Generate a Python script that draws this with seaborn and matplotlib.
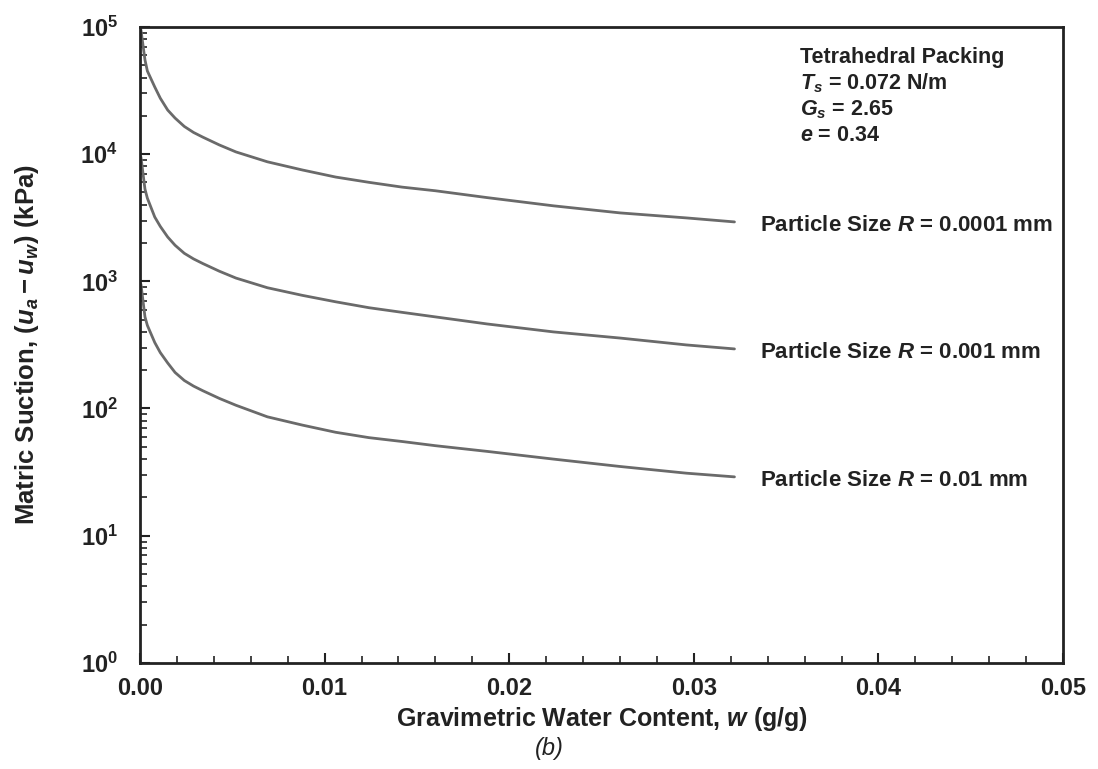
import matplotlib
matplotlib.use("Agg")
import matplotlib.pyplot as plt
import seaborn as sns
import numpy as np
import pandas as pd
from matplotlib.ticker import LogLocator, MultipleLocator, FixedLocator

# Values
water_content = [0.00005, 0.00027, 0.0004, 0.0008, 0.0011, 0.0015, 0.0019, 0.0024, 0.0029,
                 0.0034, 0.0043, 0.0052, 0.0069, 0.0088, 0.0106, 0.0124, 0.0142, 0.016,
                 0.0188, 0.0224, 0.026, 0.0296, 0.0322]
suction_r0001 = [95000, 55000, 45000, 33700, 27500, 22200, 19200, 16500, 14800,
                 13600, 11800, 10400, 8700, 7500, 6600, 6000, 5500, 5150,
                 4550, 3920, 3450, 3150, 2930]
suction_r001 = [9500, 5300, 4500, 3200, 2700, 2230, 1920, 1660, 1500,
                1380, 1200, 1060, 890, 775, 690, 620, 570, 525,
                462, 400, 358, 316, 294]
suction_r01 = [950, 525, 450, 330, 275, 228, 192, 166, 150,
               138, 120, 106, 86, 74, 65, 59, 55, 51,
               46, 40, 35, 31, 29]
curve_labels = ["Particle Size $R$ = 0.0001 mm",
                "Particle Size $R$ = 0.001 mm",
                "Particle Size $R$ = 0.01 mm"]

df = pd.concat([
    pd.DataFrame({"w": water_content, "suction": s, "curve": lab})
    for s, lab in zip([suction_r0001, suction_r001, suction_r01], curve_labels)
])

sns.set_style("ticks")
plt.rcParams["font.family"] = ["Liberation Sans", "DejaVu Sans"]
plt.rcParams["font.weight"] = "bold"
plt.rcParams["mathtext.fontset"] = "custom"
plt.rcParams["mathtext.rm"] = "Liberation Sans:bold"
plt.rcParams["mathtext.bf"] = "Liberation Sans:bold"
plt.rcParams["mathtext.it"] = "Liberation Sans:italic:bold"
plt.rcParams["axes.labelweight"] = "bold"

fig = plt.figure(figsize=(10.98, 7.69), dpi=100)
ax = fig.add_axes([0.1275, 0.138, 0.8407, 0.827])

sns.lineplot(data=df, x="w", y="suction", hue="curve", ax=ax, legend=False,
             palette=["#6a6a6a"] * 3, linewidth=2.0, sort=False, estimator=None)

ax.set_yscale("log")
ax.set_xlim(0, 0.05)
ax.set_ylim(1, 1e5)

ax.xaxis.set_major_locator(MultipleLocator(0.01))
ax.xaxis.set_minor_locator(MultipleLocator(0.002))
ax.set_xticklabels([f"{v:.2f}" for v in ax.get_xticks()])
ax.yaxis.set_major_locator(FixedLocator([1, 10, 100, 1e3, 1e4, 1e5]))
ax.set_yticklabels([r"$10^{%d}$" % k for k in range(6)])
ax.yaxis.set_minor_locator(LogLocator(base=10, subs=np.arange(2, 10)))

ax.tick_params(axis="both", which="major", direction="in", length=7, width=1.5,
               labelsize=17, top=False, right=False, colors="#222222")
ax.tick_params(axis="x", which="major", pad=10)
ax.tick_params(axis="y", which="major", pad=16)
ax.tick_params(axis="both", which="minor", direction="in", length=5, width=1.2,
               top=False, right=False, colors="#222222")
for sp in ax.spines.values():
    sp.set_linewidth(2.0)
    sp.set_color("#222222")

ax.set_xlabel("Gravimetric Water Content, $w$ (g/g)", fontsize=18, labelpad=4,
              color="#222222")
ax.set_ylabel("Matric Suction, $(u_a - u_w)$ (kPa)", fontsize=18.5, labelpad=28,
              color="#222222")

# Curve labels at the end of each line
label_x = 0.0336
for s, lab in zip([suction_r0001, suction_r001, suction_r01], curve_labels):
    ax.text(label_x, s[-1] * 0.93, lab, fontsize=16, fontweight="bold",
            va="center", ha="left", color="#222222")

ax.text(0.715, 0.968,
        "Tetrahedral Packing\n$T_s$ = 0.072 N/m\n$G_s$ = 2.65\n$e$ = 0.34",
        transform=ax.transAxes, fontsize=15.5, fontweight="bold",
        va="top", ha="left", linespacing=1.2, color="#222222")

fig.text(0.5, 0.027, "(b)", ha="center", va="center", fontsize=17,
         fontweight="normal", fontstyle="italic", color="#222222")

plt.savefig("out.png", dpi=100)
plt.close()
